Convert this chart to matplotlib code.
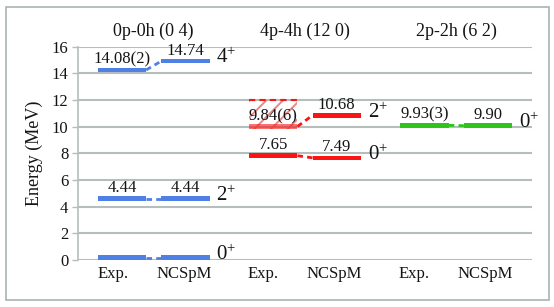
import matplotlib
matplotlib.use("Agg")
import matplotlib.pyplot as plt
from matplotlib.patches import Rectangle
import matplotlib.transforms as mtransforms

plt.rcParams['font.family'] = ['Liberation Serif', 'DejaVu Serif']
plt.rcParams['mathtext.fontset'] = 'custom'
plt.rcParams['mathtext.rm'] = 'Liberation Serif'
plt.rcParams['mathtext.it'] = 'Liberation Serif:italic'
plt.rcParams['hatch.linewidth'] = 1.4

# data
groups = ["0p-0h (0 4)", "4p-4h (12 0)", "2p-2h (6 2)"]
colors = ["#4f80e6", "#fa1414", "#2ec41c"]
exp_vals = [[0, 4.44, 14.08], [7.65, 9.84], [9.93]]
ncspm_vals = [[0, 4.44, 14.74], [7.49, 10.68], [9.90]]
exp_labels = [["", "4.44", "14.08(2)"], ["7.65", "9.84(6)"], ["9.93(3)"]]
ncspm_labels = [["", "4.44", "14.74"], ["7.49", "10.68"], ["9.90"]]
spins = [["0", "2", "4"], ["0", "2"], ["0"]]
# broad 4p-4h 2+ state: hatched band from 9.84 up to 12.0
band_group, band_level, band_top = 1, 1, 12.0

bar_h = 0.34
bar_w = 0.32
gray = "#b5bdbd"
txt = "#141414"

fig = plt.figure(figsize=(5.54, 3.07), dpi=100)
ax = fig.add_axes([0.1408, 0.1531, 0.8195, 0.695])
ax.set_xlim(0, 3)
ax.set_ylim(0, 16)

for g in range(len(groups)):
    c = colors[g]
    xe, xn = g + 0.29, g + 0.71
    for k in range(len(exp_vals[g])):
        ve, vn = exp_vals[g][k], ncspm_vals[g][k]
        broad = (g == band_group and k == band_level)
        ax.bar(xe, bar_h, width=bar_w, bottom=ve, color=c, alpha=0.6 if broad else 1,
               linewidth=0, clip_on=False, zorder=3)
        ax.bar(xn, bar_h, width=bar_w, bottom=vn, color=c, linewidth=0, clip_on=False, zorder=3)
        ax.plot([xe + bar_w / 2, xn - bar_w / 2], [ve + bar_h / 2, vn + bar_h / 2],
                color=c, lw=2, ls=(0, (2, 1.5)), zorder=3)
        for x, v, lab in [(xe, ve, exp_labels[g][k]), (xn, vn, ncspm_labels[g][k])]:
            if lab:
                ax.annotate(lab, (x, v + bar_h), xytext=(0, 3), textcoords='offset points',
                            ha='center', va='baseline', fontsize=12, color=txt, zorder=5)
        ax.text(xn + bar_w / 2 + 0.045, vn, "$%s^{+}$" % spins[g][k], ha='left', va='baseline',
                fontsize=15, color=txt)
        if broad:
            ax.add_patch(Rectangle((xe - bar_w / 2, ve), bar_w, band_top - ve, fill=False,
                                   hatch='//', edgecolor="#e58a8a", linewidth=0, zorder=2))
            ax.plot([xe - bar_w / 2, xe + bar_w / 2], [band_top, band_top], color=c, lw=1.5,
                    ls=(0, (3, 2)), zorder=3)

# group titles
trans = mtransforms.blended_transform_factory(ax.transData, ax.transAxes)
for g, t in enumerate(groups):
    ax.text(g + 0.5, 1.072, t, transform=trans, ha='center', va='center', fontsize=13,
            color=txt)

ax.set_xticks([0.23, 0.70, 1.22, 1.695, 2.22, 2.69])
ax.set_xticklabels(["Exp.", "NCSpM"] * 3, fontsize=12, color=txt)
ax.set_yticks(range(0, 17, 2))
ax.tick_params(axis='y', labelsize=12, length=4, color=gray, width=1, pad=3, labelcolor=txt)
ax.tick_params(axis='x', length=0, pad=4)
ax.grid(axis='y', color=gray, lw=1.5, zorder=0)
ax.set_axisbelow(True)
for s in ['top', 'right', 'bottom']:
    ax.spines[s].set_visible(False)
ax.spines['left'].set_color(gray)
ax.spines['left'].set_linewidth(1.2)
ax.set_ylabel("Energy (MeV)", fontsize=13, labelpad=6, color=txt)

fig.patches.append(Rectangle((6 / 554, 1 - 300 / 307), 543 / 554, 293 / 307, fill=False,
                             edgecolor='#a9b3b3', lw=1.2, transform=fig.transFigure))

fig.savefig("out.png", dpi=100)
